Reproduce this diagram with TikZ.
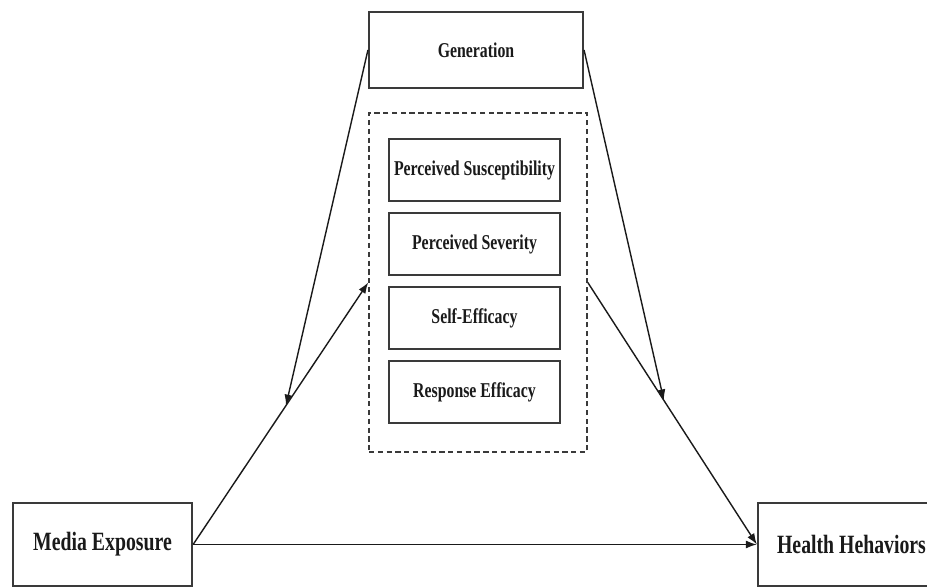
\documentclass[tikz,border=0pt]{standalone}
\usepackage{fontspec}
\newfontfamily\figfont{Liberation Serif}[FakeStretch=0.75]
\usetikzlibrary{arrows.meta}
\definecolor{Frame}{HTML}{3A3A3A}
\definecolor{TextInk}{HTML}{1A1A1A}

\begin{document}
\begin{tikzpicture}[x=1cm,y=1cm,every node/.style={text=TextInk,font=\figfont\bfseries\fontsize{12}{14}\selectfont},box/.style={draw=Frame,fill=white,line width=1.2pt,minimum width=3.42cm,minimum height=1.24cm,inner sep=0pt},outer/.style={draw=Frame,fill=white,line width=1.3pt,minimum width=3.58cm,minimum height=1.66cm,inner sep=0pt,font=\figfont\bfseries\fontsize{15}{18}\selectfont},link/.style={draw=TextInk,line width=0.8pt,-{Latex[length=2.2mm,width=1.6mm]}}]
\fill[white] (0,0) rectangle (18.54,11.76);
\clip (0,0) rectangle (18.54,11.76);
\node[box,minimum width=4.28cm,minimum height=1.52cm] (gen) at (9.52,10.76){Generation};
\node[draw=Frame,densely dashed,line width=0.9pt,minimum width=4.36cm,minimum height=6.78cm,inner sep=0pt] (grp) at (9.56,6.11){};
\foreach \y/\name/\txt in {8.36/ps/{Perceived Susceptibility},6.88/sev/{Perceived Severity},5.40/self/{Self-Efficacy},3.92/resp/{Response Efficacy}}{
  \node[box] (\name) at (9.49,\y){\txt};
}
\node[outer] (med) at (2.05,0.87){Media Exposure};
\node[outer,minimum width=3.74cm] (hb) at (17.03,0.87){Health Hehaviors};
\path (med.east) -- (grp.west) coordinate[pos=0.53] (mL);
\path (grp.east) -- (hb.west) coordinate[pos=0.45] (mR);
\draw[link] (med.east) -- (grp.west);
\draw[link] (grp.east) -- (hb.west);
\draw[link] (med.east) -- (hb.west);
\draw[link] (gen.west) -- (mL);
\draw[link] (gen.east) -- (mR);
\end{tikzpicture}
\end{document}
